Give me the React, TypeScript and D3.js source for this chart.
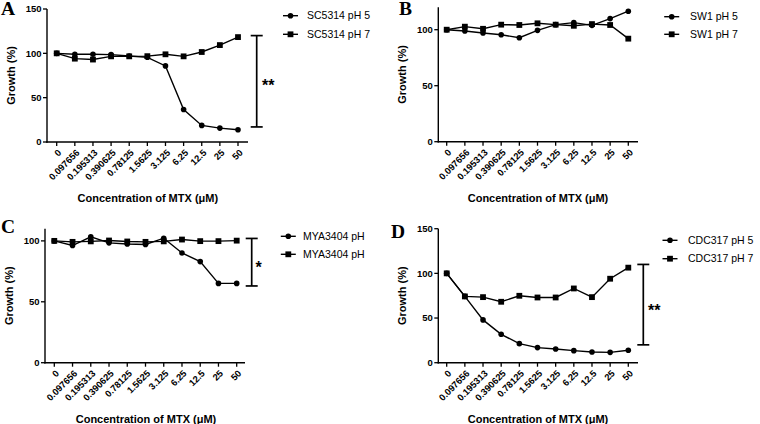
import React from "react";
import * as d3 from "d3";

const categories = ["0", "0.097656", "0.195313", "0.390625", "0.78125", "1.5625", "3.125", "6.25", "12.5", "25", "50"];

const aPH5 = [100, 98.9, 98.9, 98.5, 97, 95.5, 85.8, 36.6, 18.7, 15.7, 13.8];
const aPH7 = [100, 94, 93, 96.6, 96.6, 96.8, 98.9, 96.6, 101.5, 109.3, 118.3];
const bPH5 = [100, 98.8, 97, 95.5, 92.8, 99.4, 104.5, 106.3, 103.9, 109.9, 116.5];
const bPH7 = [100, 102.7, 100.8, 104.5, 104.2, 105.7, 104.5, 103.5, 105, 104.2, 92];
const cPH5 = [100, 96.2, 103.3, 98.4, 97.5, 97, 102.2, 90.1, 83, 65.1, 65.1];
const cPH7 = [100, 99.2, 99.6, 100.3, 99.5, 99.2, 99.6, 101.1, 99.8, 99.8, 100.2];
const dPH5 = [100, 74.2, 47.9, 31.8, 21.3, 16.9, 15.4, 13.5, 12, 11.6, 13.9];
const dPH7 = [100, 74.2, 73.4, 68.2, 74.9, 73, 73, 83.1, 73.4, 94, 106.4];

const panelLetters = ["A", "B", "C", "D"];
const legendA = ["SC5314 pH 5", "SC5314 pH 7"];
const legendB = ["SW1 pH 5", "SW1 pH 7"];
const legendC = ["MYA3404 pH", "MYA3404 pH"];
const legendD = ["CDC317 pH 5", "CDC317 pH 7"];
const yMaxes = [150, 120, 110, 150];
const yTicksABD = [0, 50, 100, 150];
const yTicksBC = [0, 50, 100];
const sigRanges: ([number, number] | null)[] = [[17, 120], null, [63, 102], [20, 110]];
const sigLabels = ["**", "", "*", "**"];

const xTitle = "Concentration of MTX (\u03bcM)";
const yTitle = "Growth (%)";

const SANS = "Arial, 'Liberation Sans', Helvetica, sans-serif";
const SERIF = "'Times New Roman', 'Liberation Serif', serif";

type Layout = {
  axisX: number; y0: number; yTopPx: number; xFirst: number; xLast: number; xEnd: number;
  letterX: number; letterY: number;
  legMarkX: number; legTextX: number; legY: [number, number];
  sigX: number; sigTextX: number; sigTextY: number;
};

const layouts: Layout[] = [
  { axisX: 47, y0: 142, yTopPx: 9, xFirst: 56.7, xLast: 238, xEnd: 248, letterX: 1, letterY: 15,
    legMarkX: 290.5, legTextX: 307, legY: [15.7, 34.3], sigX: 256.7, sigTextX: 262, sigTextY: 82 },
  { axisX: 438.3, y0: 141.7, yTopPx: 7.3, xFirst: 446.7, xLast: 628.3, xEnd: 638, letterX: 399, letterY: 15,
    legMarkX: 671.7, legTextX: 690, legY: [16.7, 34.3], sigX: 0, sigTextX: 0, sigTextY: 0 },
  { axisX: 45, y0: 362.7, yTopPx: 228.7, xFirst: 54.3, xLast: 236.7, xEnd: 245, letterX: 1, letterY: 232.7,
    legMarkX: 288.3, legTextX: 303, legY: [236.3, 254.3], sigX: 251.7, sigTextX: 255.5, sigTextY: 263.7 },
  { axisX: 438.3, y0: 362.7, yTopPx: 228.7, xFirst: 446.7, xLast: 628.3, xEnd: 638, letterX: 391, letterY: 238,
    legMarkX: 670, legTextX: 688, legY: [240.3, 258.7], sigX: 643.3, sigTextX: 648, sigTextY: 307 },
];

const seriesData = [[aPH5, aPH7], [bPH5, bPH7], [cPH5, cPH7], [dPH5, dPH7]];
const legends = [legendA, legendB, legendC, legendD];
const tickSets = [yTicksABD.slice(0, 4), yTicksBC, yTicksBC, yTicksABD];

function Marker({ x, y, kind }: { x: number; y: number; kind: number }) {
  if (kind === 0) return <circle cx={x} cy={y} r={2.8} fill="#000" />;
  return <rect x={x - 2.9} y={y - 2.9} width={5.8} height={5.8} fill="#000" />;
}

function Panel({ i }: { i: number }) {
  const L = layouts[i];
  const yMax = yMaxes[i];
  const x = d3.scalePoint<string>().domain(categories).range([L.xFirst, L.xLast]);
  const y = d3.scaleLinear().domain([0, yMax]).range([L.y0, L.yTopPx]);
  const line = d3.line<number>().x((_, j) => x(categories[j]) as number).y((v) => y(v));
  const sig = sigRanges[i];
  const xMid = (L.xFirst + L.xLast) / 2 + 0.5;
  const yMid = (L.y0 + L.yTopPx) / 2;
  return (
    <g>
      <text x={L.letterX} y={L.letterY} fontFamily={SERIF} fontWeight="bold" fontSize={19.5}>{panelLetters[i]}</text>
      {/* y axis */}
      <line x1={L.axisX} x2={L.axisX} y1={L.yTopPx} y2={L.y0 + 0.7} stroke="#000" strokeWidth={1.4} />
      {tickSets[i].map((t) => (
        <g key={t}>
          <line x1={L.axisX - 4} x2={L.axisX} y1={y(t)} y2={y(t)} stroke="#000" strokeWidth={1.3} />
          <text x={L.axisX - 5.5} y={y(t)} dy="0.35em" textAnchor="end" fontFamily={SANS} fontWeight="bold" fontSize={9.5}>{t}</text>
        </g>
      ))}
      <text transform={`translate(${L.axisX - 32},${yMid}) rotate(-90)`} textAnchor="middle" fontFamily={SANS} fontWeight="bold" fontSize={11}>{yTitle}</text>
      {/* x axis */}
      <line x1={L.axisX - 0.7} x2={L.xEnd} y1={L.y0} y2={L.y0} stroke="#000" strokeWidth={1.4} />
      {categories.map((c) => {
        const cx = x(c) as number;
        return (
          <g key={c}>
            <line x1={cx} x2={cx} y1={L.y0} y2={L.y0 + 4} stroke="#000" strokeWidth={1.3} />
            <text transform={`translate(${cx + 3},${L.y0 + 9}) rotate(-45)`} textAnchor="end" dy="0.35em" fontFamily={SANS} fontWeight="bold" fontSize={9.3}>{c}</text>
          </g>
        );
      })}
      <text x={xMid} y={L.y0 + 60} textAnchor="middle" fontFamily={SANS} fontWeight="bold" fontSize={11}>{xTitle}</text>
      {/* series */}
      {seriesData[i].map((s, k) => (
        <g key={k}>
          <path d={line(s) || ""} fill="none" stroke="#000" strokeWidth={1.4} />
          {s.map((v, j) => <Marker key={j} x={x(categories[j]) as number} y={y(v)} kind={k} />)}
        </g>
      ))}
      {/* significance */}
      {sig && (
        <g>
          <line x1={L.sigX} x2={L.sigX} y1={y(sig[0])} y2={y(sig[1])} stroke="#000" strokeWidth={1.7} />
          <line x1={L.sigX - 6} x2={L.sigX + 6} y1={y(sig[0])} y2={y(sig[0])} stroke="#000" strokeWidth={1.7} />
          <line x1={L.sigX - 6} x2={L.sigX + 6} y1={y(sig[1])} y2={y(sig[1])} stroke="#000" strokeWidth={1.7} />
          <text x={L.sigTextX} y={L.sigTextY + 9} fontFamily={SANS} fontWeight="bold" fontSize={16}>{sigLabels[i]}</text>
        </g>
      )}
      {/* legend */}
      {legends[i].map((lab, k) => (
        <g key={k}>
          <line x1={L.legMarkX - 7.5} x2={L.legMarkX + 7.5} y1={L.legY[k]} y2={L.legY[k]} stroke="#000" strokeWidth={1.4} />
          <Marker x={L.legMarkX} y={L.legY[k]} kind={k} />
          <text x={L.legTextX} y={L.legY[k]} dy="0.35em" fontFamily={SANS} fontSize={10.5}>{lab}</text>
        </g>
      ))}
    </g>
  );
}

export default function App() {
  return (
    <svg width={760} height={424} style={{ position: "absolute", left: 0, top: 0, background: "#fff" }}>
      <rect width={760} height={424} fill="#fff" />
      {[0, 1, 2, 3].map((i) => <Panel key={i} i={i} />)}
    </svg>
  );
}
